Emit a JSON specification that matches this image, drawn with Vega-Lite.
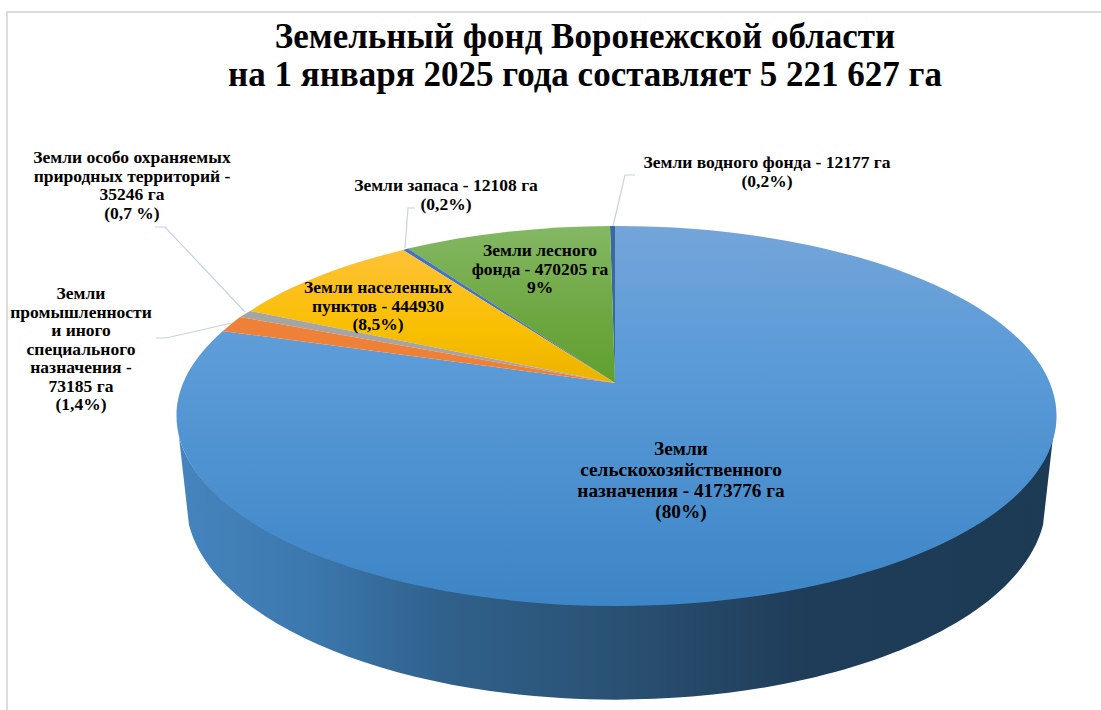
{"$schema":"https://vega.github.io/schema/vega-lite/v6.json","width":1101,"height":710,"autosize":{"type":"none"},"padding":0,"background":"white","view":{"stroke":null},"title":{"text":["Земельный фонд Воронежской области","на 1 января 2025 года составляет 5 221 627 га"],"font":"Liberation Serif","fontSize":35,"fontWeight":"bold","color":"#000000","anchor":"middle","frame":"group","baseline":"top","lineHeight":38,"offset":-93,"dx":34.5},"data":{"values":[{"category":"Земли сельскохозяйственного назначения","value":4173776,"label":"Земли\nсельскохозяйственного\nназначения - 4173776 га\n(80%)"},{"category":"Земли водного фонда","value":12177,"label":"Земли водного фонда - 12177 га\n(0,2%)"},{"category":"Земли лесного фонда","value":470205,"label":"Земли лесного\nфонда - 470205 га\n9%"},{"category":"Земли запаса","value":12108,"label":"Земли запаса - 12108 га\n(0,2%)"},{"category":"Земли населенных пунктов","value":444930,"label":"Земли населенных\nпунктов - 444930\n(8,5%)"},{"category":"Земли особо охраняемых природных территорий","value":35246,"label":"Земли особо охраняемых\nприродных территорий -\n35246 га\n(0,7 %)"},{"category":"Земли промышленности и иного специального назначения","value":73185,"label":"Земли\nпромышленности\nи иного\nспециального\nназначения -\n73185 га\n(1,4%)"}]},"layer":[{"data":{"values":[{"element":"frame"}]},"mark":{"type":"point","filled":false,"opacity":1,"size":4,"strokeWidth":2,"stroke":"#dcdcdc","shape":"M -543.5 355 L -543.5 -343 L 550.5 -343"}},{"transform":[{"filter":"datum.value==4173776"}],"mark":{"type":"point","filled":true,"opacity":1,"size":4,"strokeWidth":0,"shape":"M -371.5 82 L -361.5 170 A 430 198 0 0 0 492.5 170 L 502.5 82 A 440 190 0 0 1 -371.5 82 Z","fill":{"gradient":"linear","x1":0,"y1":0,"x2":1,"y2":0,"stops":[{"offset":0,"color":"#4584bd"},{"offset":0.15,"color":"#3c78ae"},{"offset":0.3,"color":"#30618c"},{"offset":0.5,"color":"#2a5173"},{"offset":0.72,"color":"#1f3c58"},{"offset":1,"color":"#1d3a55"}]}}},{"transform":[{"filter":"datum.value==4173776"}],"mark":{"type":"point","filled":true,"opacity":1,"size":4,"strokeWidth":0,"shape":"M 64.5 28 L 64.5 -129 A 440 190 0 1 1 -327.5 -24 Z","fill":{"gradient":"linear","x1":0,"y1":0,"x2":0,"y2":1,"stops":[{"offset":0,"color":"#74a5d9"},{"offset":0.35,"color":"#5b9bd8"},{"offset":1,"color":"#3d85c6"}]}}},{"transform":[{"filter":"datum.value==12177"}],"mark":{"type":"point","filled":true,"opacity":1,"size":4,"strokeWidth":0,"fill":"#3b689e","shape":"M 64.5 28 L 59.5 -129 A 440 190 0 0 1 64.5 -129 Z"}},{"transform":[{"filter":"datum.value==470205"}],"mark":{"type":"point","filled":true,"opacity":1,"size":4,"strokeWidth":0,"shape":"M 64.5 28 L -142.5 -106.4 A 440 190 0 0 1 59.5 -129 Z","fill":{"gradient":"linear","x1":0,"y1":0,"x2":0,"y2":1,"stops":[{"offset":0,"color":"#84b864"},{"offset":0.6,"color":"#6ca63f"},{"offset":1,"color":"#60a030"}]}}},{"transform":[{"filter":"datum.value==12108"}],"mark":{"type":"point","filled":true,"opacity":1,"size":4,"strokeWidth":0,"fill":"#4472c4","shape":"M 64.5 28 L -147.5 -105 A 440 190 0 0 1 -142.5 -106.4 Z"}},{"transform":[{"filter":"datum.value==444930"}],"mark":{"type":"point","filled":true,"opacity":1,"size":4,"strokeWidth":0,"shape":"M 64.5 28 L -300.5 -44 A 440 190 0 0 1 -147.5 -105 Z","fill":{"gradient":"linear","x1":0,"y1":0,"x2":0,"y2":1,"stops":[{"offset":0,"color":"#fdc238"},{"offset":0.6,"color":"#f9bf00"},{"offset":1,"color":"#ecb300"}]}}},{"transform":[{"filter":"datum.value==35246"}],"mark":{"type":"point","filled":true,"opacity":1,"size":4,"strokeWidth":0,"fill":"#a5a5a5","shape":"M 64.5 28 L -310.5 -38 A 440 190 0 0 1 -300.5 -44 Z"}},{"transform":[{"filter":"datum.value==73185"}],"mark":{"type":"point","filled":true,"opacity":1,"size":4,"strokeWidth":0,"fill":"#ee8038","shape":"M 64.5 28 L -327.5 -24 A 440 190 0 0 1 -310.5 -38 Z"}},{"transform":[{"filter":"datum.value<=73185"}],"mark":{"type":"point","filled":false,"opacity":1,"size":4,"strokeWidth":1.2,"stroke":"#c6d3e2"},"encoding":{"shape":{"field":"category","type":"nominal","legend":null,"scale":{"domain":["Земли особо охраняемых природных территорий","Земли промышленности и иного специального назначения","Земли запаса","Земли водного фонда"],"range":["M -395.5 -128 L -385.5 -128 L -305.5 -43","M -394.5 -17 L -384.5 -17 L -318.5 -32","M -135.5 -147 L -142.5 -147 L -145.5 -107","M 84.5 -180 L 74.5 -180 L 62.5 -129"]}}}},{"transform":[{"filter":"datum.value==4173776"}],"mark":{"type":"text","font":"Liberation Serif","fontWeight":"bold","fontSize":19.3,"lineHeight":21,"lineBreak":"\n","baseline":"top","align":"center","color":"#000000","dx":130.5,"dy":84.5},"encoding":{"text":{"field":"label"}}},{"transform":[{"filter":"datum.value==12177"}],"mark":{"type":"text","font":"Liberation Serif","fontWeight":"bold","fontSize":17.5,"lineHeight":18.5,"lineBreak":"\n","baseline":"top","align":"center","color":"#000000","dx":216.5,"dy":-201},"encoding":{"text":{"field":"label"}}},{"transform":[{"filter":"datum.value==470205"}],"mark":{"type":"text","font":"Liberation Serif","fontWeight":"bold","fontSize":17.5,"lineHeight":18.5,"lineBreak":"\n","baseline":"top","align":"center","color":"#000000","dx":-10.5,"dy":-113},"encoding":{"text":{"field":"label"}}},{"transform":[{"filter":"datum.value==12108"}],"mark":{"type":"text","font":"Liberation Serif","fontWeight":"bold","fontSize":17.5,"lineHeight":18.5,"lineBreak":"\n","baseline":"top","align":"center","color":"#000000","dx":-104.5,"dy":-178},"encoding":{"text":{"field":"label"}}},{"transform":[{"filter":"datum.value==444930"}],"mark":{"type":"text","font":"Liberation Serif","fontWeight":"bold","fontSize":17.5,"lineHeight":18.5,"lineBreak":"\n","baseline":"top","align":"center","color":"#000000","dx":-172.5,"dy":-76},"encoding":{"text":{"field":"label"}}},{"transform":[{"filter":"datum.value==35246"}],"mark":{"type":"text","font":"Liberation Serif","fontWeight":"bold","fontSize":17.5,"lineHeight":18.5,"lineBreak":"\n","baseline":"top","align":"center","color":"#000000","dx":-418.5,"dy":-206},"encoding":{"text":{"field":"label"}}},{"transform":[{"filter":"datum.value==73185"}],"mark":{"type":"text","font":"Liberation Serif","fontWeight":"bold","fontSize":17.5,"lineHeight":18.5,"lineBreak":"\n","baseline":"top","align":"center","color":"#000000","dx":-469.5,"dy":-70},"encoding":{"text":{"field":"label"}}}]}
